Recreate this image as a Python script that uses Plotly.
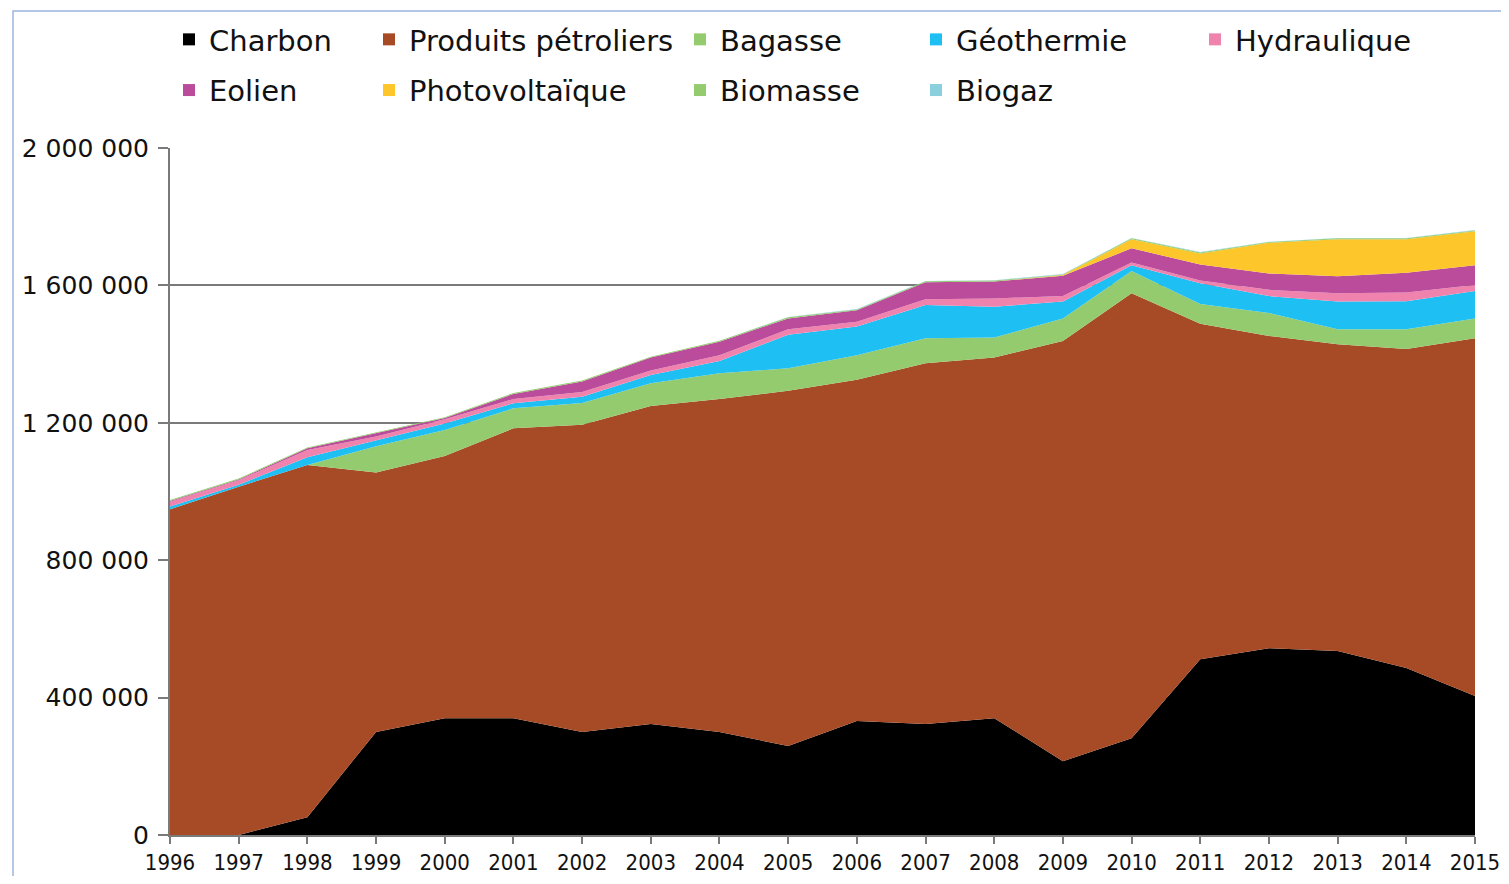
import plotly.graph_objects as go

years = list(range(1996, 2016))

# values in MWh (approximate)
charbon = [0, 0, 52000, 300000, 340000, 340000, 300000, 323000, 300000, 259000,
           332000, 323000, 340000, 215000, 282000, 512000, 544000, 536000, 486000, 405000]
produits_petroliers = [948000, 1014000, 1025000, 755000, 763000, 844000, 894000, 926000, 969000, 1034000,
                       993000, 1050000, 1050000, 1223000, 1295000, 976000, 909000, 893000, 929000, 1041000]
bagasse = [0, 0, 0, 77000, 76000, 58000, 64000, 66000, 75000, 66000,
           72000, 73000, 58000, 66000, 65000, 58000, 67000, 43000, 57000, 58000]
geothermie = [8000, 6000, 23000, 16000, 19000, 15000, 18000, 24000, 36000, 97000,
              83000, 97000, 90000, 49000, 17000, 60000, 49000, 81000, 82000, 80000]
hydraulique = [14000, 13000, 21000, 12000, 12000, 12000, 14000, 13000, 17000, 16000,
               14000, 17000, 24000, 16000, 8000, 8000, 18000, 24000, 25000, 17000]
eolien = [2000, 2000, 5000, 9000, 4000, 15000, 30000, 38000, 39000, 32000,
          34000, 49000, 49000, 59000, 41000, 47000, 48000, 50000, 58000, 58000]
photovoltaique = [0, 0, 0, 0, 0, 0, 0, 0, 0, 0,
                  0, 0, 0, 2000, 26000, 32000, 89000, 107000, 97000, 99000]
biomasse = [3000, 3000, 2000, 3000, 2000, 3000, 3000, 2000, 3000, 3000,
            2000, 3000, 3000, 2000, 3000, 3000, 2000, 3000, 3000, 2000]
biogaz = [0, 0, 0, 0, 0, 0, 0, 0, 0, 1000,
          1000, 1000, 1000, 1000, 1000, 1000, 1000, 1000, 1000, 1000]

series = [
    ("Charbon", charbon, "#000000", "legend"),
    ("Produits pétroliers", produits_petroliers, "#A64B25", "legend2"),
    ("Bagasse", bagasse, "#95CB6F", "legend3"),
    ("Géothermie", geothermie, "#1EBFF2", "legend4"),
    ("Hydraulique", hydraulique, "#F083AE", "legend5"),
    ("Eolien", eolien, "#BA4C9B", "legend"),
    ("Photovoltaïque", photovoltaique, "#FDC72C", "legend2"),
    ("Biomasse", biomasse, "#95CB6F", "legend3"),
    ("Biogaz", biogaz, "#8AD0DC", "legend4"),
]

fig = go.Figure()
for name, vals, color, _ in series:
    fig.add_trace(go.Scatter(
        x=years, y=vals, name=name, stackgroup="one", mode="lines",
        line=dict(width=0, color=color), fillcolor=color, showlegend=False,
    ))

# legend entries (square markers, Excel-like)
for name, _, color, leg in series:
    fig.add_trace(go.Scatter(
        x=[None], y=[None], mode="markers", name=name, legend=leg,
        legendgroup=name,
        marker=dict(symbol="square", size=14, color=color),
    ))

# page body has an 8px margin, so the figure is sized/offset to compensate
OFF = 8
W, H = 1509 - 2 * OFF, 884 - 2 * OFF
L, T = 170 - OFF, 148 - OFF
pw, ph = 1305, 687
R, B = W - L - pw, H - T - ph


def px_x(px):
    return (px - OFF - L) / pw


def px_y(py):
    return (T + ph - (py - OFF)) / ph


legend_font = dict(family="DejaVu Sans, sans-serif", size=29, color="#111111")
col_text_x = [209, 409, 720, 956, 1235]
legends = {}
for i, tx in enumerate(col_text_x):
    key = "legend" if i == 0 else f"legend{i + 1}"
    legends[key] = dict(
        x=px_x(tx - 40), y=px_y(14), xanchor="left", yanchor="top",
        orientation="v", font=legend_font, bgcolor="rgba(0,0,0,0)",
        traceorder="grouped", tracegroupgap=10, itemsizing="constant",
    )

fig.update_layout(
    width=W, height=H,
    margin=dict(l=L, r=R, t=T, b=B, autoexpand=False),
    paper_bgcolor="white", plot_bgcolor="white",
    separators=", ",
    xaxis=dict(
        range=[1996, 2015], tickmode="array", tickvals=years,
        ticks="outside", ticklen=7, tickwidth=2, tickcolor="#7a7a7a",
        ticklabeloverflow="allow", ticklabelstandoff=0,
        showline=True, linecolor="#7a7a7a", linewidth=2,
        showgrid=False, zeroline=False, automargin=False,
        tickfont=dict(family="DejaVu Sans Condensed, DejaVu Sans, sans-serif", size=22, color="#111111"),
    ),
    yaxis=dict(
        range=[0, 2000000], tickvals=[0, 400000, 800000, 1200000, 1600000, 2000000],
        tickformat=",d",
        ticks="outside", ticklen=10, tickwidth=2, tickcolor="#7a7a7a",
        ticklabelstandoff=4,
        showline=True, linecolor="#7a7a7a", linewidth=2,
        showgrid=True, gridcolor="#7a7a7a", gridwidth=2, zeroline=False, automargin=False,
        tickfont=dict(family="DejaVu Sans, sans-serif", size=25, color="#111111"),
    ),
    shapes=[dict(
        type="rect", xref="paper", yref="paper",
        x0=px_x(13), x1=px_x(1530), y0=px_y(900), y1=px_y(11),
        line=dict(color="#9DB5E0", width=1.5), layer="below",
    )],
    **legends,
)

fig.write_html("out.html")
